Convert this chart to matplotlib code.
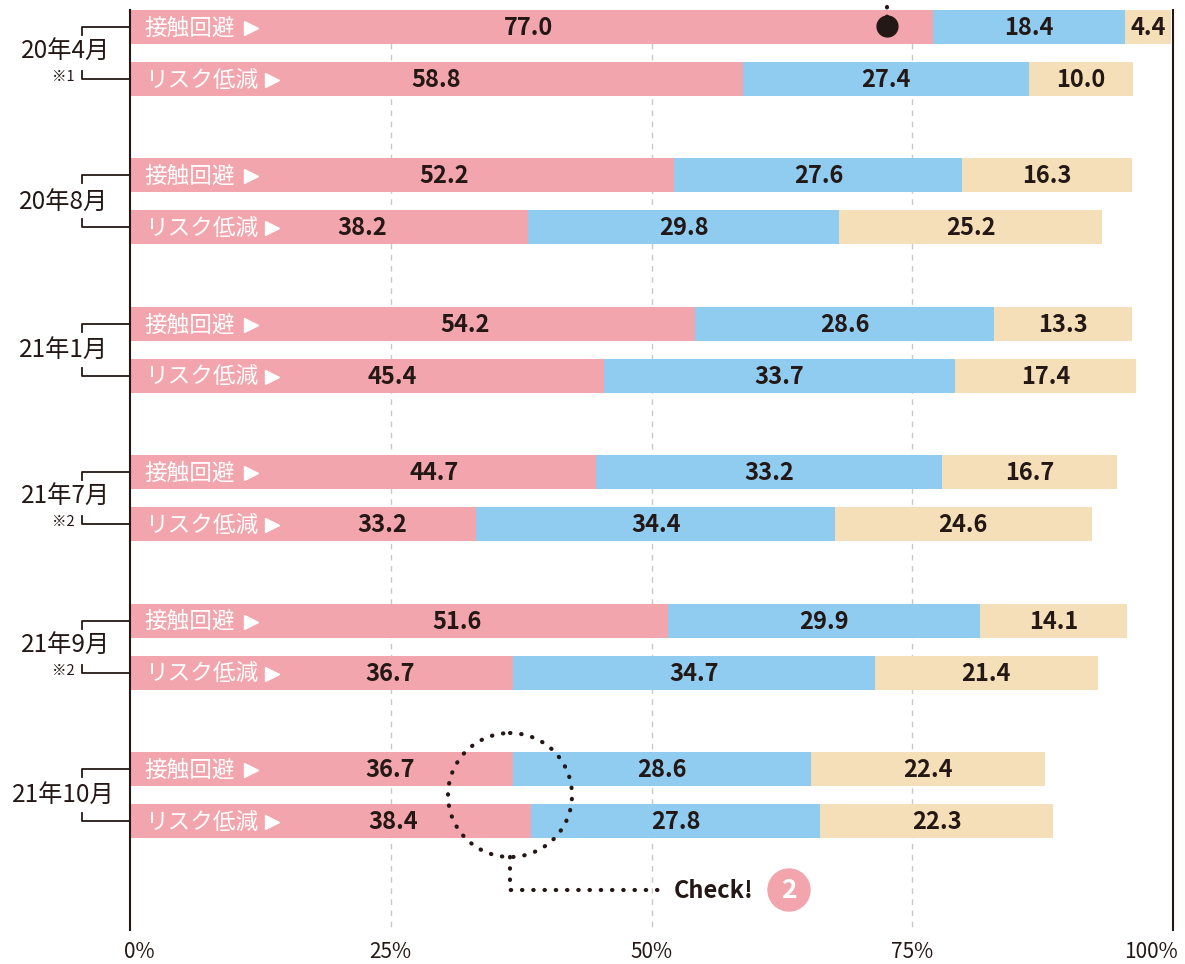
import matplotlib
matplotlib.use("Agg")
import matplotlib.pyplot as plt
from matplotlib.patches import Ellipse
from matplotlib.transforms import ScaledTranslation

plt.rcParams['font.family'] = ['Noto Sans CJK JP', 'DejaVu Sans']

# survey rounds and footnote marks
periods = ['20年4月', '20年8月', '21年1月', '21年7月', '21年9月', '21年10月']
notes = ['※1', '', '', '※2', '※2', '']
row_names = ['接触回避', 'リスク低減']

# 接触回避 rows: three answer shares per round
contact_a = [77.0, 52.2, 54.2, 44.7, 51.6, 36.7]
contact_b = [18.4, 27.6, 28.6, 33.2, 29.9, 28.6]
contact_c = [4.4, 16.3, 13.3, 16.7, 14.1, 22.4]

# リスク低減 rows
risk_a = [58.8, 38.2, 45.4, 33.2, 36.7, 38.4]
risk_b = [27.4, 29.8, 33.7, 34.4, 34.7, 27.8]
risk_c = [10.0, 25.2, 17.4, 24.6, 21.4, 22.3]

ticks = [0, 25, 50, 75, 100]

# where the first-segment numbers sit (x in %), kept clear of the row names
first_label_x = [[38.2, 29.4], [30.1, 22.3], [32.1, 25.1],
                 [29.2, 24.2], [31.4, 24.9], [24.9, 25.2]]

PINK = '#F2A5AC'
BLUE = '#90CBF0'
BEIGE = '#F5DFB8'
INK = '#231815'

W, H = 1185, 964
fig = plt.figure(figsize=(W / 100, H / 100), dpi=100)
ax = fig.add_axes([130 / W, (H - 930) / H, 1043 / W, 920 / H])
ax.set_xlim(0, 100)
ax.set_ylim(930, 10)
px = 1043 / 100          # pixels per percent

group_step = 148.4
first_y = 27
pair_gap = 52
bar_h = 34
arrow_x = [(251 - 130) / px, (272 - 130) / px]

for g in range(len(periods)):
    rows = [(contact_a[g], contact_b[g], contact_c[g]),
            (risk_a[g], risk_b[g], risk_c[g])]
    for r, vals in enumerate(rows):
        y = first_y + g * group_step + r * pair_gap
        left = 0
        for k, (v, col) in enumerate(zip(vals, [PINK, BLUE, BEIGE])):
            ax.barh(y, v, left=left, height=bar_h, color=col, zorder=2)
            lx = first_label_x[g][r] if k == 0 else left + v / 2
            ax.text(lx, y + 1, f'{v:.1f}', ha='center', va='center',
                    fontsize=17, fontweight='bold', color=INK, zorder=4)
            left += v
        ax.text(1.4, y + 1, row_names[r], ha='left', va='center',
                fontsize=16.3, color='white', zorder=4)
        ax.plot(arrow_x[r], y + 1, marker='>', ms=10, color='white',
                mec='white', zorder=4)

    # bracket and round label on the left
    y1 = first_y + g * group_step
    y2 = y1 + pair_gap
    bx = -4.6
    ax.plot([bx, bx, 0], [y1 + 8, y1, y1], color=INK, lw=1.3,
            clip_on=False, zorder=3)
    ax.plot([bx, bx, 0], [y2 - 8, y2, y2], color=INK, lw=1.3,
            clip_on=False, zorder=3)
    ym = (y1 + y2) / 2
    if notes[g]:
        ax.text(-6.2, ym - 1, periods[g], ha='center', va='center',
                fontsize=17.5, color=INK, clip_on=False)
        ax.text(-5.3, y2 - 2, notes[g], ha='right', va='center',
                fontsize=10.5, color=INK, clip_on=False)
    else:
        ax.text(-6.4, ym + 1, periods[g], ha='center', va='center',
                fontsize=17.5, color=INK, clip_on=False)

# dashed guides
for t in ticks[1:-1]:
    ax.plot([t, t], [10, 930], color='#C8C8C8', lw=1, ls=(0, (4, 4)), zorder=1)

for s in ['top', 'bottom']:
    ax.spines[s].set_visible(False)
for s in ['left', 'right']:
    ax.spines[s].set_color(INK)
    ax.spines[s].set_linewidth(1.5)
ax.set_yticks([])
ax.set_xticks(ticks)
ax.set_xticklabels([f'{t}%' for t in ticks], fontsize=15, color=INK)
ax.tick_params(axis='x', length=0, pad=8)
tl = ax.get_xticklabels()
tl[0].set_transform(tl[0].get_transform() + ScaledTranslation(9 / 100, 0, fig.dpi_scale_trans))
tl[-1].set_ha('right')
tl[-1].set_transform(tl[-1].get_transform() + ScaledTranslation(5 / 100, 0, fig.dpi_scale_trans))

# marker with dotted leader at the top
dot_x = 72.55
ax.plot([dot_x, dot_x], [17, -2], color=INK, lw=3, ls=(0, (0.1, 2.2)),
        dash_capstyle='round', clip_on=False, zorder=5)
ax.plot(dot_x, 26, 'o', color=INK, ms=15, zorder=5, clip_on=False)

# "Check!" callout around the 21年10月 pair
cx = (510 - 130) / px
ax.add_patch(Ellipse((cx, 795), 2 * 62 / px, 124, fill=False, ec=INK, lw=3,
                     ls=(0, (0.1, 2.6)), capstyle='round', zorder=5))
ax.plot([cx, cx, (662 - 130) / px], [857, 890, 890], color=INK, lw=3,
        ls=(0, (0.1, 2.6)), dash_capstyle='round', zorder=5)
ax.text((674 - 130) / px, 891, 'Check!', ha='left', va='center', fontsize=17,
        fontweight='bold', color=INK, zorder=5)
ax.add_patch(Ellipse(((789 - 130) / px, 890), 42 / px, 42, color=PINK, zorder=5))
ax.text((789 - 130) / px, 891, '2', ha='center', va='center', fontsize=19,
        fontweight='bold', color='white', zorder=6)

fig.savefig('out.png', dpi=100)
